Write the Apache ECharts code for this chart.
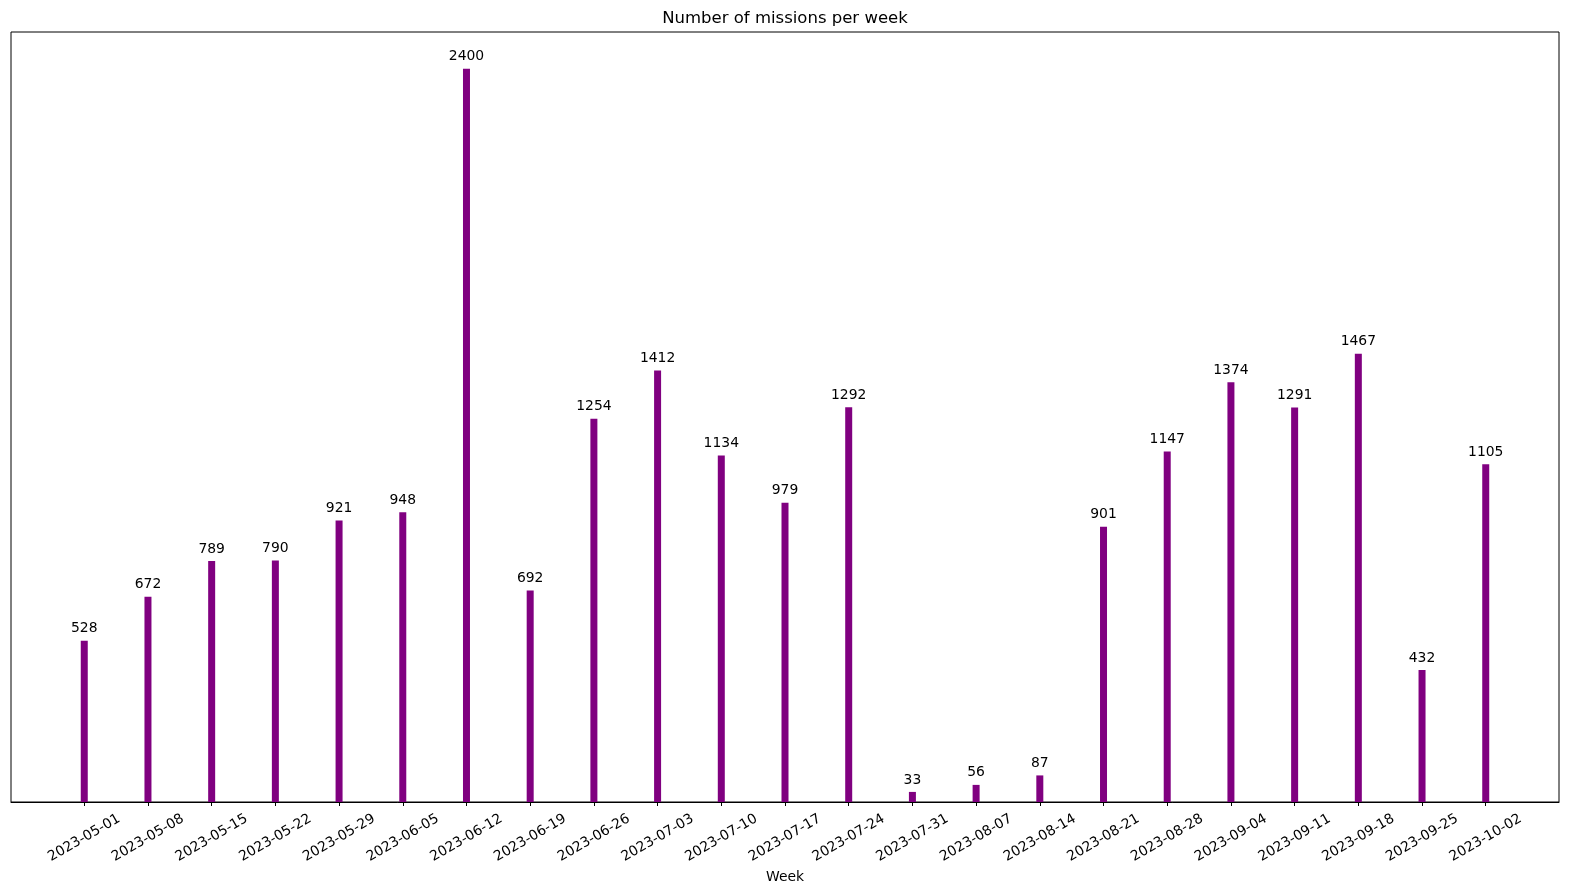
<!DOCTYPE html>
<html>
<head>
<meta charset="utf-8">
<script src="https://cdn.jsdelivr.net/npm/echarts@6/dist/echarts.min.js"></script>
<style>html,body{margin:0;padding:0;background:#fff}#chart{width:1570px;height:893px}</style>
</head>
<body>
<div id="chart"></div>
<script>
const weeks = ['2023-05-01','2023-05-08','2023-05-15','2023-05-22','2023-05-29','2023-06-05','2023-06-12','2023-06-19','2023-06-26','2023-07-03','2023-07-10','2023-07-17','2023-07-24','2023-07-31','2023-08-07','2023-08-14','2023-08-21','2023-08-28','2023-09-04','2023-09-11','2023-09-18','2023-09-25','2023-10-02'];
const missions = [528,672,789,790,921,948,2400,692,1254,1412,1134,979,1292,33,56,87,901,1147,1374,1291,1467,432,1105];

const idx = weeks.map((w, i) => i);
const font = 'DejaVu Sans';
const chart = echarts.init(document.getElementById('chart'));
chart.setOption({
  animation: false,
  backgroundColor: '#fff',
  title: {
    text: 'Number of missions per week',
    left: 'center',
    top: 5,
    textStyle: { fontFamily: font, fontSize: 16.5, fontWeight: 'normal', color: '#000' }
  },
  grid: { left: 11, right: 11, top: 32, bottom: 91, show: true, borderColor: '#000', borderWidth: 1, backgroundColor: 'transparent' },
  xAxis: {
    type: 'value',
    min: -1.15,
    max: 23.15,
    name: 'Week',
    nameLocation: 'middle',
    nameGap: 66,
    nameTextStyle: { fontFamily: font, fontSize: 13.9, color: '#000' },
    splitLine: { show: false },
    axisLine: { show: true, lineStyle: { color: '#000', width: 1 } },
    axisTick: { show: true, length: 4, lineStyle: { color: '#000' }, customValues: idx },
    axisLabel: {
      customValues: idx,
      rotate: 30,
      align: 'center',
      verticalAlign: 'middle',
      margin: 36,
      fontFamily: font,
      fontSize: 13.9,
      color: '#000',
      formatter: v => weeks[Math.round(v)]
    }
  },
  yAxis: {
    type: 'value',
    min: 0,
    max: 2520,
    axisLine: { show: false },
    axisTick: { show: false },
    axisLabel: { show: false },
    splitLine: { show: false }
  },
  series: [{
    type: 'bar',
    barWidth: 7,
    data: missions.map((v, i) => [i, v]),
    itemStyle: { color: '#800080' },
    label: {
      show: true,
      position: 'top',
      distance: 5,
      fontFamily: font,
      fontSize: 13.9,
      color: '#000',
      formatter: p => p.value[1]
    }
  }]
});
</script>
</body>
</html>
